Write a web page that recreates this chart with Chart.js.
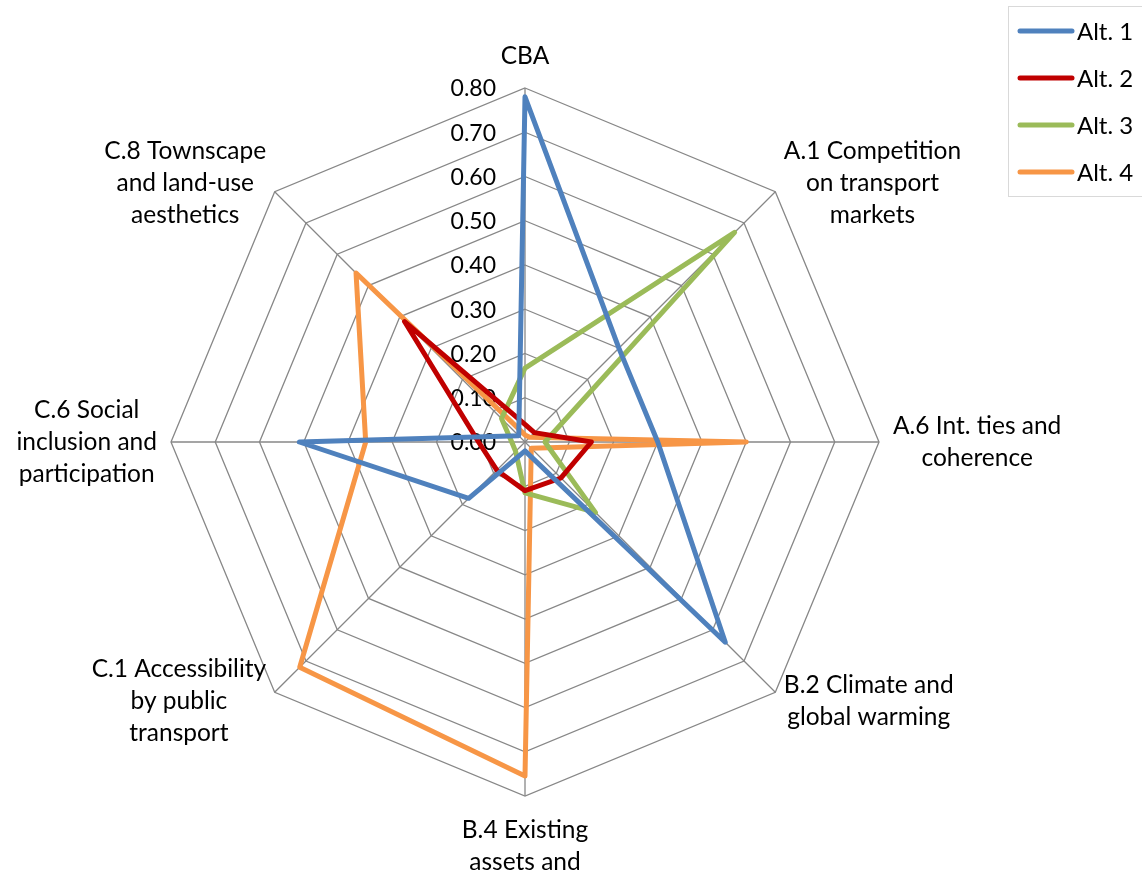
<!DOCTYPE html>
<html>
<head>
<meta charset="utf-8">
<title>Alternatives radar</title>
<script src="https://cdn.jsdelivr.net/npm/chart.js@4.4.1/dist/chart.umd.min.js"></script>
<style>
  html, body { margin: 0; padding: 0; background: #ffffff; }
  #wrap { width: 1142px; height: 874px; position: relative; }
</style>
</head>
<body>
<div id="wrap"><canvas id="radar" width="1142" height="874"></canvas></div>
<script>
// Criteria (spokes), clockwise from the top
const criteria = [
  ['CBA'],
  ['A.1 Competition', 'on transport', 'markets'],
  ['A.6 Int. ties and', 'coherence'],
  ['B.2 Climate and', 'global warming'],
  ['B.4 Existing', 'assets and'],
  ['C.1 Accessibility', 'by public', 'transport'],
  ['C.6 Social', 'inclusion and', 'participation'],
  ['C.8 Townscape', 'and land-use', 'aesthetics']
];

// Scores per alternative
const alt1 = [0.78, 0.30, 0.30, 0.64, 0.02, 0.18, 0.51, 0.02];
const alt2 = [0.04, 0.03, 0.15, 0.115, 0.11, 0.09, 0.105, 0.385];
const alt3 = [0.167, 0.67, 0.045, 0.225, 0.115, 0.03, 0.03, 0.075];
const alt4 = [0.016, 0.015, 0.50, 0.02, 0.755, 0.72, 0.36, 0.54];

const seriesNames = ['Alt. 1', 'Alt. 2', 'Alt. 3', 'Alt. 4'];
const seriesColors = ['#4F81BD', '#C00000', '#9BBB59', '#F79646'];

// Radial axis range
const axisMin = 0;
const axisMax = 0.8;
const axisStep = 0.1;

const TICK_FONT = '23px Lato, "Open Sans", sans-serif';
const LABEL_FONT = '24.5px Lato, "Open Sans", sans-serif';
const LEGEND_FONT = '24px Lato, "Open Sans", sans-serif';
const GRID = '#878787';

function makeDataset(name, values, color) {
  return {
    label: name,
    data: values,
    borderColor: color,
    backgroundColor: color,
    borderWidth: 5,
    borderJoinStyle: 'round',
    borderCapStyle: 'round',
    fill: false,
    pointRadius: 0,
    pointHoverRadius: 0,
    tension: 0
  };
}

// Tick values drawn to the left of the vertical spoke
const axisTicks = {
  id: 'axisTicks',
  beforeDatasetsDraw(chart) {
    const s = chart.scales.r;
    const ctx = chart.ctx;
    ctx.save();
    ctx.font = TICK_FONT;
    ctx.fillStyle = '#000000';
    ctx.textAlign = 'right';
    ctx.textBaseline = 'middle';
    s.ticks.forEach(t => {
      const d = s.getDistanceFromCenterForValue(t.value);
      ctx.fillText(t.value.toFixed(2), s.xCenter - 29, s.yCenter - d + 1);
    });
    ctx.restore();
  }
};

// Spoke captions placed just outside the outer ring
const spokeLabels = {
  id: 'spokeLabels',
  afterDraw(chart) {
    const s = chart.scales.r;
    const ctx = chart.ctx;
    const lineH = 32;
    ctx.save();
    ctx.font = LABEL_FONT;
    ctx.fillStyle = '#000000';
    ctx.textAlign = 'center';
    ctx.textBaseline = 'middle';
    chart.data.labels.forEach((lines, i) => {
      const angle = s.getIndexAngle(i);
      const dx = Math.sin(angle);   // + to the right
      const dy = -Math.cos(angle);  // + downwards
      const vertical = Math.abs(dx) < 0.01;
      const horizontal = Math.abs(dy) < 0.01;
      let gap = 12;
      if (vertical) gap = dy < 0 ? 16 : 18;
      else if (horizontal) gap = 14;
      const p = s.getPointPosition(i, s.drawingArea + gap);
      const w = Math.max(...lines.map(l => ctx.measureText(l).width));
      const h = lines.length * lineH;
      let cx, top;
      if (vertical) cx = p.x;
      else if (dx > 0) cx = p.x + w / 2;
      else cx = p.x - w / 2;
      if (vertical) top = dy < 0 ? p.y - h : p.y;
      else top = p.y - h / 2;
      lines.forEach((l, k) => ctx.fillText(l, cx, top + lineH * k + lineH / 2));
    });
    ctx.restore();
  }
};

// Boxed legend in the top-right corner
const boxLegend = {
  id: 'boxLegend',
  afterDraw(chart) {
    const ctx = chart.ctx;
    ctx.save();
    ctx.strokeStyle = '#D9D9D9';
    ctx.lineWidth = 1;
    ctx.strokeRect(1008.5, 6.5, 140, 190);
    ctx.font = LEGEND_FONT;
    ctx.textAlign = 'left';
    ctx.textBaseline = 'middle';
    chart.data.datasets.forEach((ds, i) => {
      const y = 31 + 47 * i;
      ctx.strokeStyle = ds.borderColor;
      ctx.lineWidth = 5;
      ctx.lineCap = 'round';
      ctx.beginPath();
      ctx.moveTo(1020, y);
      ctx.lineTo(1072, y);
      ctx.stroke();
      ctx.fillStyle = '#000000';
      ctx.fillText(ds.label, 1077, y + 1);
    });
    ctx.restore();
  }
};

new Chart(document.getElementById('radar'), {
  type: 'radar',
  data: {
    labels: criteria,
    datasets: [
      makeDataset(seriesNames[0], alt1, seriesColors[0]),
      makeDataset(seriesNames[1], alt2, seriesColors[1]),
      makeDataset(seriesNames[2], alt3, seriesColors[2]),
      makeDataset(seriesNames[3], alt4, seriesColors[3])
    ]
  },
  options: {
    responsive: false,
    animation: false,
    devicePixelRatio: 1,
    layout: { padding: { left: 171, right: 263, top: 88, bottom: 78 } },
    plugins: {
      legend: { display: false },
      tooltip: { enabled: false }
    },
    elements: { line: { tension: 0 } },
    scales: {
      r: {
        min: axisMin,
        max: axisMax,
        beginAtZero: true,
        ticks: { display: false, stepSize: axisStep },
        grid: { color: GRID, lineWidth: 1.3, circular: false },
        angleLines: { color: GRID, lineWidth: 1.3 },
        pointLabels: { display: false }
      }
    }
  },
  plugins: [axisTicks, spokeLabels, boxLegend]
});
</script>
</body>
</html>
